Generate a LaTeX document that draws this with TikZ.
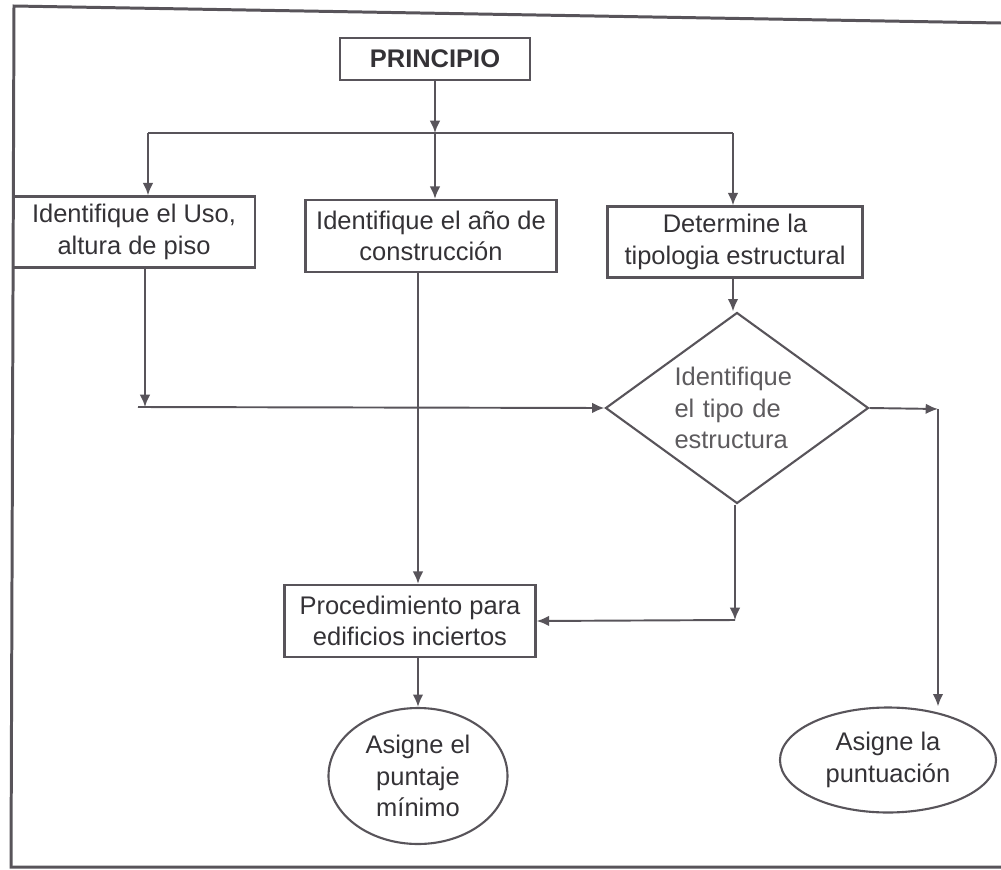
\documentclass[tikz,border=0pt]{standalone}
\usepackage{fontspec}
\setmainfont{Liberation Sans}
\usepackage{xcolor}
\usetikzlibrary{shapes.geometric,arrows.meta}
\definecolor{trazo}{RGB}{88,84,90}
\definecolor{letra}{RGB}{52,50,54}

\begin{document}
\begin{tikzpicture}[
  caja/.style={rectangle,draw=trazo,line width=1.4pt,text=letra,align=center,inner sep=2pt},
  rombo/.style={diamond,draw=trazo,line width=1.2pt,text=letra!80,align=left,inner sep=0pt,aspect=1.38},
  elipse/.style={ellipse,draw=trazo,line width=1.2pt,text=letra,align=center,inner sep=0pt},
  flecha/.style={-{Latex[length=7pt,width=6pt]},draw=trazo,line width=1.1pt},
  linea/.style={draw=trazo,line width=1.1pt},
  every node/.style={font=\fontsize{14.5}{18}\selectfont}
]

\useasboundingbox (0,0) rectangle (20.02,-17.40);
\draw[trazo,line width=1.7pt] (20.02,-0.46) -- (0.28,-0.12) -- (0.22,-17.34) -- (20.02,-17.34);

\node[caja,minimum width=3.8cm,minimum height=0.84cm,font=\fontsize{14.5}{18}\selectfont\bfseries] (inicio) at (8.70,-1.18) {PRINCIPIO};
\node[caja,minimum width=4.84cm,minimum height=1.42cm] (uso) at (2.68,-4.64) {Identifique el Uso,\\altura de piso};
\node[caja,minimum width=5.02cm,minimum height=1.44cm] (anio) at (8.62,-4.72) {Identifique el año de\\construcción};
\node[caja,minimum width=5.10cm,minimum height=1.42cm] (tipo) at (14.70,-4.84) {Determine la\\tipologia estructural};
\node[rombo,minimum width=5.26cm,minimum height=3.82cm,text width=2.5cm] (estructura) at (14.74,-8.16) {Identifique\\el tipo de\\estructura};
\node[caja,minimum width=5.02cm,minimum height=1.44cm] (incierto) at (8.20,-12.42) {Procedimiento para\\edificios inciertos};
\node[elipse,minimum width=3.58cm,minimum height=2.72cm] (minimo) at (8.36,-15.52) {Asigne el\\puntaje\\mínimo};
\node[elipse,minimum width=4.32cm,minimum height=2.10cm] (puntuacion) at (17.76,-15.20) {Asigne la\\puntuación};

\coordinate (ramaI) at (2.96,-2.66);
\coordinate (ramaD) at (14.66,-2.66);
\coordinate (bajaUso) at (2.90,-8.14);
\coordinate (bajaAnio) at (8.36,-5.44);
\coordinate (bajaRombo) at (14.70,-12.40);
\coordinate (ladoRombo) at (18.76,-8.18);

\draw[flecha] (inicio.south) -- (inicio.south |- ramaI);
\draw[linea] (ramaI) -- (ramaD);
\draw[flecha] (ramaI) -- (ramaI |- uso.north);
\draw[flecha] (inicio.south |- ramaI) -- (inicio.south |- anio.north);
\draw[flecha] (ramaD) -- (ramaD |- tipo.north);
\draw[flecha] (tipo.south -| ramaD) -- (ramaD |- estructura.north);

\draw[flecha] (uso.south -| bajaUso) -- (bajaUso);
\draw[flecha] ([xshift=-0.14cm]bajaUso) -- (estructura.west);
\draw[flecha] (bajaAnio) -- (bajaAnio |- incierto.north);
\draw[flecha] (estructura.south -| bajaRombo) -- (bajaRombo);
\draw[flecha] (bajaRombo) -- (incierto.east);
\draw[flecha] (estructura.east) -- (ladoRombo);
\draw[flecha] (ladoRombo) -- (ladoRombo |- puntuacion.north);
\draw[flecha] (incierto.south -| minimo.north) -- (minimo.north);

\end{tikzpicture}
\end{document}
